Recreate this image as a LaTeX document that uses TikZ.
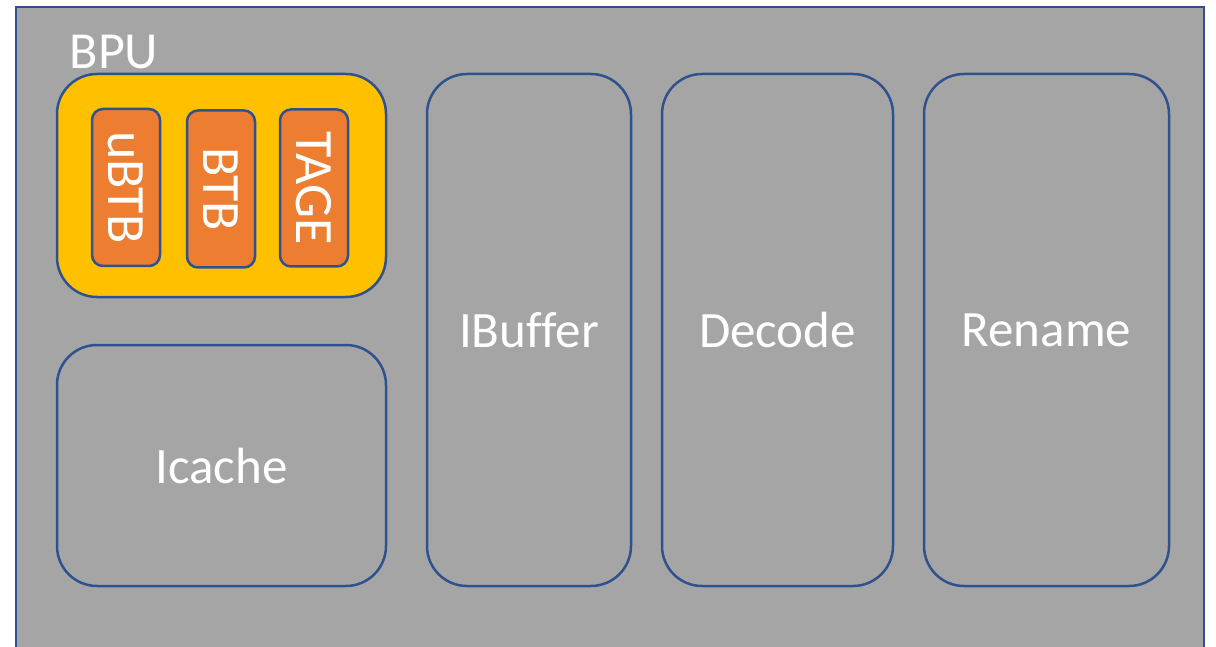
\documentclass[tikz,border=0pt]{standalone}
\usepackage{fontspec}
\setmainfont{Carlito}[Ligatures=NoCommon]
\definecolor{bgray}{HTML}{A5A5A5}
\definecolor{bblue}{HTML}{2F528F}
\definecolor{byellow}{HTML}{FFC000}
\definecolor{borange}{HTML}{ED7D31}
\tikzset{
  big/.style={draw=bblue, line width=2.5pt, rounded corners=40pt, fill=bgray, text=white, font=\fontsize{51}{53}\selectfont, inner sep=0pt},
  small/.style={draw=bblue, line width=2.5pt, rounded corners=11pt, fill=borange, text=white, inner sep=0pt, minimum width=68pt, minimum height=157pt},
  rot/.style={rotate=-90, text=white, font=\fontsize{54}{56}\selectfont, inner sep=0pt}
}
\begin{document}
\begin{tikzpicture}[x=1pt,y=-1pt]
\useasboundingbox (0,0) rectangle (1216,647);
\clip (0,0) rectangle (1216,647);
\fill[white] (0,0) rectangle (1216,647);
\draw[draw=bblue, line width=2.5pt, fill=bgray] (16,7) rectangle (1204,680);
\node[anchor=center, text=white, font=\fontsize{52}{54}\selectfont, inner sep=0pt] (bpulabel) at (114,52) {BPU};
\node[big, fill=byellow, minimum width=329pt, minimum height=223pt] (bpu) at (221.5,185.5) {};
\node[small] (ubtb) at (126,187.5) {};
\node[rot] at (ubtb.center) {uBTB};
\node[small] (btb) at (221,189) {};
\node[rot] at (btb.center) {BTB};
\node[small] (tage) at (314,188) {};
\node[rot] at (tage.center) {TAGE};
\node[big, minimum width=329pt, minimum height=241pt] (icache) at (221.5,465.5) {Icache};
\node[big, minimum width=204pt, minimum height=512pt] (ibuf) at (529,330) {IBuffer};
\node[big, minimum width=231pt, minimum height=512pt] (decode) at (777.5,330) {Decode};
\node[big, minimum width=245pt, minimum height=512pt] (rename) at (1046.5,330) {Rename};
\end{tikzpicture}
\end{document}
